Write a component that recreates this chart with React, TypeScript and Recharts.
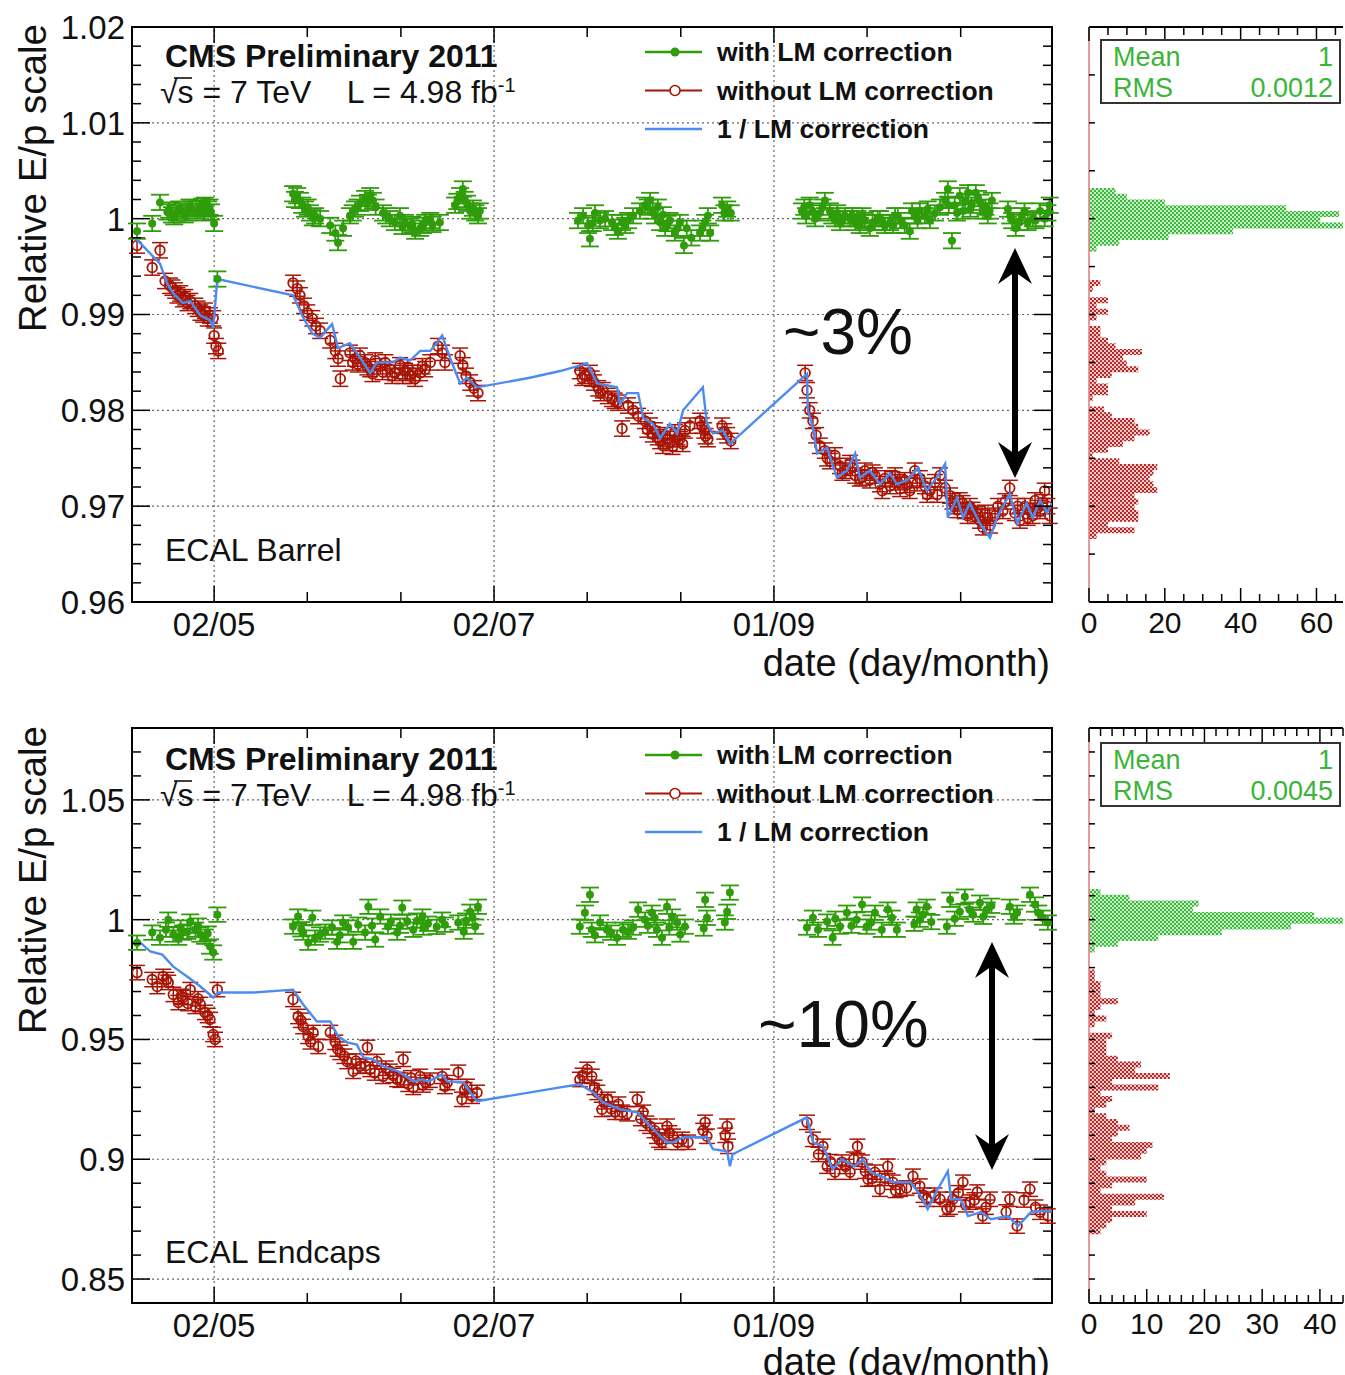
import React from "react";
import {
  ComposedChart,
  Scatter,
  Bar,
  XAxis,
  YAxis,
  ErrorBar,
  ReferenceLine,
  ReferenceArea,
} from "recharts";

type Pt = [number, number];

const FONT = '"Liberation Sans", Arial, Helvetica, sans-serif';
const GREEN = "#2f9c0a";
const RED = "#a81405";
const BLUE = "#4a8cf2";
const STAT_GREEN = "#3ab53a";

// time axis, x in day-of-year 2011
const DAY_DOMAIN: [number, number] = [104.1, 304.6];
const DATE_DAYS = [122, 183, 244];
const DATE_LABELS = ["02/05", "02/07", "01/09"];
const DATE_MINOR_DAYS = [142.3, 162.7, 203.3, 223.7, 264.3, 284.7];

// ---- ECAL Barrel ----
const BARREL_RANGE: [number, number] = [0.96, 1.02];
const BARREL_ERR = 0.0008;
const barrelWith: Pt[] = [
  [105.2, 0.9987], [108.5, 0.9995], [110.2, 1.0017], [111.8, 1.0007], [112.2, 1.0009], [112.8, 1.0004],
  [113.3, 1.0002], [113.9, 1.0006], [114.4, 1.001], [115.0, 1.0008], [115.6, 1.0004], [116.1, 1.0006],
  [116.6, 1.0012], [117.2, 1.001], [118.3, 1.0008], [118.8, 1.0011], [119.4, 1.0013], [119.8, 1.0006],
  [120.0, 1.0014], [120.7, 1.001], [121.0, 1.0012], [121.3, 1.0007], [122.0, 0.9995], [122.7, 0.9937],
  [139.2, 1.0026], [139.6, 1.002], [140.1, 1.0024], [140.7, 1.0019], [141.2, 1.0014], [141.8, 1.001],
  [142.4, 1.0012], [142.9, 1.0006], [143.5, 1.0001], [144.0, 1.0003], [145.1, 1.0], [147.3, 0.9993],
  [148.4, 0.9985], [149.0, 0.9975], [150.1, 0.999], [151.6, 1.0003], [152.2, 1.0006], [152.7, 1.001],
  [153.3, 1.0012], [153.8, 1.0016], [154.9, 1.0021], [155.5, 1.0017], [156.0, 1.0024], [156.6, 1.0019],
  [157.2, 1.0012], [158.8, 1.0006], [159.5, 1.0003], [160.3, 1.0], [161.4, 0.9996], [162.5, 1.0003],
  [163.0, 0.9992], [163.6, 0.9996], [164.7, 0.9992], [165.2, 0.9994], [165.8, 0.9987], [166.9, 0.999],
  [167.5, 0.9993], [168.0, 0.9996], [169.1, 0.9998], [169.6, 0.9994], [171.2, 0.9996], [174.5, 1.0014],
  [175.0, 1.0018], [175.6, 1.0024], [176.2, 1.0031], [176.6, 1.002], [177.1, 1.0016], [177.8, 1.0008],
  [178.4, 1.0011], [178.9, 1.0006], [179.5, 1.0003], [179.9, 1.0008],
  [201.3, 0.9998], [202.4, 1.0003], [203.5, 0.9993], [203.9, 0.9979], [204.5, 0.9995], [205.0, 1.0006],
  [206.1, 0.9998], [207.2, 1.0], [208.7, 0.9996], [209.3, 0.9991], [210.0, 0.9987], [210.9, 0.9996],
  [211.6, 0.9993], [212.2, 0.9998], [213.3, 1.0003], [214.8, 1.0008], [215.9, 1.0014], [216.5, 1.0012],
  [217.0, 1.0019], [217.6, 1.0008], [218.1, 1.0003], [218.7, 1.0012], [219.2, 0.9996], [219.8, 1.0004],
  [220.3, 0.999], [220.8, 0.9995], [221.3, 0.9998], [222.4, 0.9985], [223.0, 0.999], [223.5, 0.9996],
  [224.4, 0.9972], [225.0, 0.999], [226.0, 0.998], [227.9, 0.9985], [228.4, 0.999], [229.0, 0.9996],
  [229.6, 1.0003], [230.1, 0.9985], [232.7, 1.0014], [233.2, 1.0006], [233.8, 1.001], [234.6, 1.0006],
  [250.1, 1.0008], [250.6, 1.0012], [251.0, 1.0003], [251.8, 1.0014], [252.4, 1.0008], [253.0, 1.0],
  [254.0, 1.0006], [254.6, 1.0012], [255.1, 1.0019], [256.2, 1.0008], [256.7, 1.0003], [257.3, 1.0],
  [257.8, 1.0006], [258.4, 0.9996], [259.0, 1.0], [259.5, 1.0003], [260.6, 1.0], [261.1, 1.0003],
  [261.7, 0.9996], [262.2, 1.0], [262.7, 0.9993], [263.3, 1.0003], [263.8, 0.9998], [264.9, 0.999],
  [265.5, 0.9996], [266.0, 0.9996], [266.6, 1.0], [267.1, 1.0], [267.7, 0.9996], [268.2, 0.9993],
  [269.3, 0.9996], [270.0, 0.9993], [270.4, 1.0003], [271.0, 1.0003], [271.5, 0.9998], [272.5, 0.9993],
  [273.6, 0.9987], [274.1, 1.0008], [274.7, 1.0003], [275.3, 0.9998], [275.8, 1.0008], [276.9, 1.0003],
  [277.5, 1.001], [278.0, 0.9998], [279.1, 1.0006], [280.2, 1.0012], [281.3, 1.0019], [281.9, 1.0031],
  [282.1, 1.0014], [282.8, 0.9977], [283.4, 1.0014], [283.9, 1.0006], [284.5, 1.0024], [285.2, 1.0008],
  [285.7, 1.0018], [286.3, 1.0027], [286.8, 1.001], [287.1, 1.0014], [288.0, 1.0027], [288.5, 1.0021],
  [289.0, 1.0017], [289.5, 1.0008], [290.1, 1.0012], [290.6, 1.0003], [291.0, 1.0008], [291.5, 1.0019],
  [295.0, 1.001], [295.5, 1.0003], [295.9, 0.9998], [296.7, 0.999], [297.5, 0.9996], [298.0, 1.0003],
  [298.6, 1.0008], [299.3, 0.9996], [300.4, 1.0], [301.0, 0.9998], [302.0, 1.0008], [303.0, 1.0],
  [303.6, 1.0006], [304.1, 1.0014],
];
const barrelWithout: Pt[] = [
  [105.2, 0.9972], [108.5, 0.9949], [110.2, 0.9967], [111.3, 0.9935], [112.4, 0.993], [112.9, 0.9928],
  [113.5, 0.9925], [114.0, 0.992], [114.6, 0.9922], [115.2, 0.9916], [115.7, 0.9918], [116.2, 0.9912],
  [116.8, 0.9914], [117.9, 0.9909], [118.4, 0.9906], [119.0, 0.9902], [119.6, 0.99], [120.0, 0.9904],
  [120.6, 0.9896], [121.1, 0.9899], [121.8, 0.9896], [122.0, 0.9878], [122.4, 0.9867], [122.9, 0.9862],
  [139.2, 0.9933], [140.1, 0.9927], [140.7, 0.992], [141.6, 0.9909], [142.3, 0.9902], [143.4, 0.9896],
  [144.2, 0.9888], [145.1, 0.9883], [147.3, 0.9873], [148.4, 0.9862], [149.0, 0.9854], [149.5, 0.9833],
  [151.6, 0.986], [152.2, 0.985], [152.7, 0.9854], [153.3, 0.9848], [153.8, 0.9857], [154.9, 0.985],
  [155.4, 0.9845], [156.0, 0.9843], [156.5, 0.9838], [157.1, 0.9852], [158.2, 0.9846], [158.7, 0.984],
  [159.3, 0.985], [160.3, 0.9843], [160.8, 0.9836], [161.4, 0.9839], [162.5, 0.9847], [163.1, 0.9836],
  [163.6, 0.9841], [164.2, 0.9845], [164.7, 0.9836], [165.3, 0.9839], [165.8, 0.9833], [166.9, 0.9839],
  [167.4, 0.9846], [168.0, 0.9843], [169.1, 0.985], [170.8, 0.9867], [171.7, 0.986], [172.3, 0.985],
  [175.6, 0.9857], [176.2, 0.9847], [176.9, 0.9836], [177.8, 0.9829], [178.6, 0.9823], [179.5, 0.9818],
  [201.7, 0.9841], [202.2, 0.9834], [202.8, 0.9836], [203.9, 0.9839], [204.3, 0.9833], [204.8, 0.9829],
  [205.7, 0.9823], [206.2, 0.9818], [206.7, 0.9821], [207.8, 0.9815], [208.7, 0.9812], [209.3, 0.981],
  [210.0, 0.9808], [210.9, 0.9781], [212.2, 0.9805], [213.3, 0.98], [214.4, 0.9794], [215.9, 0.9789],
  [216.4, 0.978], [217.0, 0.9784], [217.6, 0.9775], [218.1, 0.9779], [218.7, 0.9772], [219.2, 0.9768],
  [219.8, 0.9763], [220.3, 0.9774], [220.8, 0.977], [221.3, 0.9766], [221.9, 0.9762], [222.4, 0.9777],
  [223.0, 0.9772], [223.5, 0.977], [224.1, 0.9765], [224.6, 0.9779], [225.7, 0.9784], [227.9, 0.9789],
  [228.3, 0.9784], [228.8, 0.9779], [229.1, 0.9773], [229.6, 0.977], [232.7, 0.9784], [233.2, 0.9778],
  [233.8, 0.9774], [234.6, 0.9768],
  [250.8, 0.9839], [251.2, 0.9821], [251.8, 0.98], [252.5, 0.9789], [253.2, 0.9774], [254.0, 0.9763],
  [255.1, 0.9758], [255.6, 0.975], [256.2, 0.9747], [257.3, 0.9753], [258.4, 0.9742], [258.9, 0.9735],
  [259.5, 0.9737], [260.6, 0.9745], [261.1, 0.974], [261.7, 0.9732], [262.7, 0.9729], [263.2, 0.973],
  [263.8, 0.9737], [264.9, 0.9727], [265.5, 0.9735], [266.0, 0.9732], [267.1, 0.9723], [267.6, 0.9716],
  [268.2, 0.9729], [269.3, 0.9721], [269.8, 0.9728], [270.4, 0.9732], [271.0, 0.9725], [271.5, 0.9718],
  [272.5, 0.9727], [273.0, 0.9722], [273.6, 0.9716], [274.7, 0.9737], [275.2, 0.9724], [275.8, 0.9729],
  [276.9, 0.9721], [277.4, 0.9712], [278.0, 0.9716], [279.1, 0.9725], [279.6, 0.9712], [280.2, 0.9732],
  [281.3, 0.9719], [282.4, 0.9711], [282.9, 0.9705], [283.4, 0.97], [284.0, 0.9696], [284.5, 0.9706],
  [285.1, 0.9703], [285.6, 0.9695], [286.2, 0.969], [286.7, 0.97], [287.3, 0.9696], [287.8, 0.969],
  [288.4, 0.9692], [288.9, 0.9685], [289.5, 0.9678], [290.0, 0.9693], [290.6, 0.9688], [291.1, 0.968],
  [292.2, 0.969], [292.8, 0.97], [293.9, 0.9695], [294.4, 0.9705], [295.4, 0.9719], [296.5, 0.9693],
  [297.1, 0.97], [297.6, 0.9685], [298.7, 0.97], [299.3, 0.9688], [299.8, 0.9695], [300.4, 0.969],
  [300.9, 0.9706], [301.5, 0.9698], [302.0, 0.9695], [302.6, 0.9704], [303.0, 0.9716], [303.6, 0.97],
  [304.1, 0.969],
];
const barrelLM: Pt[] = [
  [104.8, 0.998], [110.2, 0.9953], [111.8, 0.9932], [113.1, 0.9922], [115.2, 0.9912], [116.8, 0.9914],
  [119.0, 0.9899], [121.1, 0.9894], [121.8, 0.9886], [122.7, 0.9937], [139.2, 0.992], [141.4, 0.9897],
  [143.4, 0.988], [145.1, 0.9876], [147.7, 0.989], [149.0, 0.9865], [151.6, 0.987], [153.8, 0.9855],
  [156.0, 0.9839], [157.5, 0.985], [161.0, 0.985], [162.5, 0.9855], [164.7, 0.9852], [166.9, 0.9862],
  [169.1, 0.9862], [171.7, 0.9878], [173.4, 0.9855], [175.6, 0.9828], [177.1, 0.9834], [179.3, 0.9824],
  [190.8, 0.9834], [197.4, 0.9841], [203.3, 0.9849], [205.5, 0.9828], [209.8, 0.9824], [210.5, 0.9807],
  [212.0, 0.9818], [214.4, 0.9818], [215.5, 0.9792], [217.6, 0.9786], [219.2, 0.9771], [221.3, 0.9786],
  [222.9, 0.9776], [224.2, 0.98], [228.5, 0.9824], [229.4, 0.9786], [230.7, 0.9776], [232.9, 0.9779],
  [234.4, 0.9765], [251.2, 0.9838], [251.4, 0.98], [252.5, 0.9782], [253.4, 0.9755], [255.6, 0.9761],
  [257.7, 0.973], [259.9, 0.9737], [261.7, 0.9755], [262.7, 0.973], [264.9, 0.9737], [267.1, 0.9723],
  [269.3, 0.9734], [270.8, 0.9723], [273.0, 0.9727], [275.4, 0.974], [277.3, 0.9716], [279.5, 0.973],
  [281.3, 0.9744], [281.9, 0.9688], [283.9, 0.9709], [285.2, 0.9688], [286.7, 0.9703], [288.9, 0.9682],
  [291.1, 0.9667], [292.6, 0.9688], [295.4, 0.9713], [297.0, 0.9682], [299.1, 0.9703], [300.4, 0.9688],
  [302.0, 0.9706], [303.5, 0.9693], [304.6, 0.9703],
];
// histogram: bins of 0.0006 counted down from 1.02
const BARREL_BIN_W = 0.0006;
const BARREL_GREEN_FIRST_BIN = 28;
const barrelGreenCounts = [7, 10, 20, 52, 66, 61, 67, 38, 21, 8, 2];
const BARREL_RED_FIRST_BIN = 44;
const barrelRedCounts = [
  3, 1, 0, 5, 2, 5, 2, 0, 3, 3, 5, 7, 14, 9, 10, 13, 6, 2, 5, 5, 1, 0, 4, 6, 12, 13, 16, 12, 9, 5, 1,
  8, 18, 17, 16, 17, 18, 12, 13, 12, 13, 13, 5, 12, 2,
];

// ---- ECAL Endcaps ----
const ENDCAP_RANGE: [number, number] = [0.84, 1.08];
const ENDCAP_ERR = 0.003;
const endcapWith: Pt[] = [
  [105.2, 0.9904], [108.5, 0.9946], [110.2, 0.9925], [111.5, 0.9958], [112.0, 1.0], [113.1, 0.9938],
  [114.2, 0.9925], [114.7, 0.9967], [115.2, 0.9946], [116.2, 0.995], [116.8, 0.9992], [117.9, 0.9958],
  [118.5, 0.9975], [119.0, 0.9938], [120.0, 0.9929], [120.6, 0.9942], [121.1, 0.9888], [121.8, 0.9863],
  [122.7, 1.0021],
  [139.2, 0.9971], [140.3, 1.0013], [141.0, 0.996], [141.4, 0.9946], [142.5, 0.9904], [143.4, 1.0008],
  [144.0, 0.9925], [145.1, 0.9938], [146.2, 0.995], [147.7, 0.9967], [148.8, 0.9908], [149.4, 0.9935],
  [150.1, 0.9988], [151.2, 0.9967], [152.3, 0.9908], [153.4, 0.9979], [154.9, 0.9946], [155.6, 1.0054],
  [156.4, 0.9975], [157.1, 0.9917], [158.2, 1.0013], [159.9, 0.9971], [160.5, 0.9992], [161.9, 0.9946],
  [162.5, 0.9975], [163.0, 1.005], [164.1, 0.9992], [165.4, 0.9958], [166.2, 0.9996], [167.4, 1.0013],
  [167.6, 0.9967], [168.6, 0.9983], [170.5, 0.997], [171.7, 1.0], [172.3, 0.9979], [175.2, 0.9988],
  [176.4, 0.995], [176.9, 0.9996], [177.8, 1.0033], [178.3, 1.0008], [178.9, 0.9971], [179.5, 1.0054],
  [201.7, 0.9971], [202.8, 1.0029], [203.9, 1.0104], [204.3, 0.9958], [205.0, 0.9935], [206.1, 0.9988],
  [207.6, 0.9958], [208.5, 0.9946], [209.8, 0.9925], [211.1, 0.9958], [212.2, 0.995], [213.3, 0.9967],
  [214.4, 1.0042], [215.9, 1.0], [216.5, 0.9975], [217.4, 1.0029], [218.0, 1.0008], [218.5, 0.9958],
  [219.6, 0.9925], [220.7, 1.0054], [221.2, 0.9967], [221.8, 1.0013], [222.9, 0.9988], [223.6, 0.9938],
  [224.6, 0.9971], [228.7, 0.9963], [229.0, 1.0083], [229.4, 1.0008], [233.3, 0.9988], [233.8, 1.0033],
  [234.4, 1.0113],
  [251.2, 0.9967], [252.5, 1.0008], [253.6, 0.9958], [255.6, 0.9992], [256.8, 0.9925], [257.4, 1.0004],
  [258.4, 0.9971], [259.9, 1.0029], [260.9, 0.9975], [262.0, 1.0], [263.2, 1.0063], [264.2, 0.9971],
  [265.2, 0.9988], [266.0, 1.0029], [267.5, 0.9958], [268.8, 1.0042], [269.7, 1.0008], [270.8, 0.9958],
  [274.6, 0.9983], [275.1, 1.0042], [275.8, 1.0], [276.5, 1.0021], [277.3, 1.0054], [278.3, 0.999],
  [281.7, 0.9971], [282.4, 1.0083], [283.4, 1.0004], [284.5, 1.0033], [285.6, 1.0096], [286.6, 1.0042],
  [287.4, 1.0021], [288.9, 1.0071], [289.6, 1.0012], [290.4, 1.0042], [291.4, 1.0058], [295.4, 1.0054],
  [296.3, 1.0013], [297.0, 1.0029], [299.8, 1.0104], [300.9, 1.0063], [301.6, 1.0029], [302.6, 1.0008],
  [303.7, 0.9988],
];
const endcapWithout: Pt[] = [
  [105.2, 0.9779], [108.5, 0.975], [109.6, 0.9721], [110.9, 0.9763], [111.6, 0.975], [112.0, 0.9738],
  [113.1, 0.9688], [114.2, 0.9654], [114.8, 0.968], [115.2, 0.9675], [116.3, 0.965], [116.8, 0.9708],
  [117.9, 0.9638], [118.5, 0.967], [119.0, 0.9646], [120.0, 0.9613], [120.6, 0.96], [121.1, 0.9583],
  [121.8, 0.9521], [122.2, 0.95], [122.7, 0.9708],
  [139.2, 0.9667], [140.3, 0.9596], [140.9, 0.958], [141.4, 0.9554], [142.5, 0.9513], [143.0, 0.949],
  [143.6, 0.9529], [144.7, 0.9471], [147.3, 0.9529], [148.4, 0.9488], [148.9, 0.946], [149.5, 0.9446],
  [150.4, 0.943], [151.0, 0.9408], [152.3, 0.9367], [152.9, 0.941], [153.8, 0.9388], [155.0, 0.939],
  [155.4, 0.9467], [156.0, 0.9375], [157.0, 0.936], [157.5, 0.9408], [158.8, 0.9346], [159.4, 0.938],
  [160.3, 0.9367], [161.0, 0.935], [161.9, 0.9333], [162.6, 0.933], [163.2, 0.9417], [164.3, 0.9313],
  [164.9, 0.934], [165.4, 0.93], [166.9, 0.9346], [167.5, 0.931], [168.0, 0.9321], [169.0, 0.933],
  [171.7, 0.9346], [172.3, 0.9304], [172.8, 0.932], [175.2, 0.9363], [176.0, 0.925], [176.6, 0.929],
  [177.1, 0.9304], [178.2, 0.9263], [179.3, 0.9279],
  [201.7, 0.9333], [202.3, 0.935], [203.3, 0.9375], [204.3, 0.9346], [204.9, 0.93], [205.5, 0.9279],
  [206.5, 0.9208], [207.0, 0.924], [207.8, 0.925], [208.6, 0.921], [209.4, 0.9196], [210.1, 0.923],
  [210.9, 0.9196], [212.0, 0.919], [214.2, 0.925], [215.0, 0.917], [215.5, 0.9196], [216.2, 0.915],
  [217.0, 0.9138], [218.0, 0.912], [218.5, 0.9096], [219.0, 0.908], [219.6, 0.9071], [220.7, 0.9138],
  [221.2, 0.911], [222.0, 0.9096], [223.0, 0.907], [224.0, 0.9083], [225.3, 0.9071], [228.6, 0.912],
  [229.0, 0.9154], [229.4, 0.9096], [233.4, 0.91], [233.8, 0.9138], [234.0, 0.9054],
  [251.2, 0.9154], [252.5, 0.9083], [253.7, 0.902], [254.7, 0.9054], [255.6, 0.8971], [256.3, 0.899],
  [257.3, 0.8946], [258.8, 0.8988], [259.6, 0.897], [260.6, 0.8946], [261.4, 0.9], [262.2, 0.9054],
  [263.2, 0.8988], [263.9, 0.895], [264.5, 0.8917], [265.4, 0.892], [266.0, 0.8946], [267.1, 0.8875],
  [268.2, 0.892], [268.8, 0.8971], [269.9, 0.8904], [270.5, 0.887], [271.5, 0.8875], [272.9, 0.888],
  [274.3, 0.8929], [275.8, 0.8888], [276.6, 0.885], [277.3, 0.8833], [279.0, 0.885], [280.2, 0.8833],
  [281.7, 0.8792], [282.4, 0.88], [283.0, 0.8833], [284.2, 0.886], [285.2, 0.8904], [285.8, 0.881],
  [286.7, 0.8821], [287.7, 0.883], [288.3, 0.8863], [289.5, 0.8763], [290.2, 0.88], [291.1, 0.8833],
  [294.6, 0.878], [295.4, 0.8833], [297.0, 0.8721], [298.5, 0.883], [299.8, 0.8875], [301.0, 0.88],
  [302.0, 0.8779], [303.7, 0.8763],
];
const endcapLM: Pt[] = [
  [105.2, 0.9917], [108.1, 0.9867], [110.7, 0.9854], [113.1, 0.9804], [116.1, 0.9763], [119.0, 0.9721],
  [121.8, 0.9675], [122.9, 0.9696], [130.5, 0.9696], [139.2, 0.9708], [141.4, 0.9646], [144.4, 0.9575],
  [147.3, 0.9575], [149.0, 0.9513], [151.0, 0.9488], [153.1, 0.9479], [154.5, 0.9425], [156.6, 0.9417],
  [158.8, 0.9388], [160.8, 0.9375], [162.1, 0.9367], [164.1, 0.9342], [165.4, 0.9325], [167.4, 0.9333],
  [168.7, 0.9325], [171.7, 0.9354], [172.8, 0.9325], [176.4, 0.9321], [177.8, 0.9279], [179.3, 0.9242],
  [197.4, 0.93], [201.7, 0.9313], [204.6, 0.9279], [206.7, 0.9238], [210.5, 0.9208], [214.2, 0.9196],
  [216.3, 0.9154], [219.2, 0.9096], [220.7, 0.9071], [222.0, 0.9071], [224.2, 0.9092], [229.4, 0.9092],
  [230.7, 0.9042], [233.8, 0.9033], [234.4, 0.8971], [235.0, 0.9021], [251.2, 0.9175], [252.5, 0.9071],
  [254.7, 0.9054], [256.8, 0.8958], [258.8, 0.9], [261.5, 0.8971], [263.4, 0.9], [265.1, 0.8946],
  [267.3, 0.8929], [270.1, 0.8904], [273.8, 0.8904], [276.0, 0.8846], [277.5, 0.8792], [279.7, 0.8875],
  [281.9, 0.895], [282.6, 0.8833], [284.7, 0.8833], [286.3, 0.8763], [289.1, 0.8779], [291.3, 0.875],
  [295.0, 0.8763], [297.2, 0.8721], [300.0, 0.8779], [302.2, 0.8783], [304.6, 0.8783],
];
// histogram: bins of 0.0024 counted down from 1.08
const ENDCAP_BIN_W = 0.0024;
const ENDCAP_GREEN_FIRST_BIN = 28;
const endcapGreenCounts = [2, 7, 19, 18, 39, 44, 35, 23, 12, 5, 1];
const ENDCAP_RED_FIRST_BIN = 42;
const endcapRedCounts = [
  1, 1, 2, 2, 2, 5, 2, 1, 3, 1, 0, 4, 3, 3, 3, 5, 9, 8, 14, 4, 12, 2, 4, 3, 1, 3, 5, 7, 5, 4, 11, 10, 9,
  3, 2, 3, 10, 4, 2, 13, 8, 4, 10, 4, 3, 2,
];

// layout of the time panels (plot box = 920 x 575)
const PLOT_W = 920;
const PLOT_H = 575;

const steps = (lo: number, hi: number, step: number) => {
  const out: number[] = [];
  for (let v = lo; v <= hi + step / 2; v += step) out.push(Math.round(v * 1e6) / 1e6);
  return out;
};
const isMultiple = (v: number, step: number) => Math.abs(v / step - Math.round(v / step)) < 1e-6;
const fmt = (v: number) => String(Number(v.toFixed(3)));

const DATE_TICKS = [...DATE_DAYS, ...DATE_MINOR_DAYS].sort((a, b) => a - b);

const toRows = (pts: Pt[], err: number) => pts.map(([d, v]) => ({ d, v, e: err }));

const histRows = (
  hi: number,
  w: number,
  gFirst: number,
  gCounts: number[],
  rFirst: number,
  rCounts: number[]
) => [
  ...gCounts.map((n, i) => ({ y: hi - (gFirst + i + 0.5) * w, g: n, r: 0 })),
  ...rCounts.map((n, i) => ({ y: hi - (rFirst + i + 0.5) * w, g: 0, r: n })),
];

// ticks point inwards on both sides, like a ROOT frame
const dateTick = (p: any) => {
  const { x, y, payload } = p;
  const i = DATE_DAYS.indexOf(payload.value);
  const len = i >= 0 ? 16 : 10;
  return (
    <g>
      <line x1={x} y1={y} x2={x} y2={y - len} stroke="#000" strokeWidth={1.5} />
      <line x1={x} y1={y - PLOT_H} x2={x} y2={y - PLOT_H + len} stroke="#000" strokeWidth={1.5} />
      {i >= 0 && (
        <text x={x} y={y + 34} textAnchor="middle" fontSize={33} fontFamily={FONT} fill="#111">
          {DATE_LABELS[i]}
        </text>
      )}
    </g>
  );
};

const valueTick = (majorStep: number) => (p: any) => {
  const { x, y, payload } = p;
  const v = payload.value;
  const major = isMultiple(v, majorStep);
  const len = major ? 18 : 9;
  return (
    <g>
      <line x1={x} y1={y} x2={x + len} y2={y} stroke="#000" strokeWidth={1.5} />
      <line x1={x + PLOT_W} y1={y} x2={x + PLOT_W - len} y2={y} stroke="#000" strokeWidth={1.5} />
      {major && (
        <text x={x - 7} y={y} dy="0.36em" textAnchor="end" fontSize={33} fontFamily={FONT} fill="#111">
          {fmt(v)}
        </text>
      )}
    </g>
  );
};

const countTick = (majorStep: number) => (p: any) => {
  const { x, y, payload } = p;
  const v = payload.value;
  const major = isMultiple(v, majorStep);
  const len = major ? 14 : 8;
  return (
    <g>
      <line x1={x} y1={y} x2={x} y2={y - len} stroke="#000" strokeWidth={1.5} />
      <line x1={x} y1={y - PLOT_H} x2={x} y2={y - PLOT_H + len} stroke="#000" strokeWidth={1.5} />
      {major && (
        <text x={x} y={y + 31} textAnchor="middle" fontSize={30} fontFamily={FONT} fill="#111">
          {v}
        </text>
      )}
    </g>
  );
};

const sideTick = (p: any) => (
  <line x1={p.x} y1={p.y} x2={p.x + 6} y2={p.y} stroke="#000" strokeWidth={1.5} />
);

const greenDot = (p: any) => <circle cx={p.cx} cy={p.cy} r={4} fill={GREEN} />;
const redRing = (p: any) => (
  <circle cx={p.cx} cy={p.cy} r={4.8} fill="none" stroke={RED} strokeWidth={1.8} />
);
const noMark = () => <g />;

function TimePanel(props: {
  range: [number, number];
  majorStep: number;
  minorStep: number;
  withPts: Pt[];
  withoutPts: Pt[];
  lmPts: Pt[];
  err: number;
}) {
  const { range, majorStep, minorStep, withPts, withoutPts, lmPts, err } = props;
  const ticks = steps(range[0], range[1], minorStep);
  const grid = ticks.filter((t) => isMultiple(t, majorStep) && t > range[0] && t < range[1]);
  return (
    <ComposedChart width={1060} height={690} margin={{ top: 27, right: 8, bottom: 0, left: 0 }}>
      <XAxis
        type="number"
        dataKey="d"
        domain={DAY_DOMAIN}
        allowDataOverflow
        ticks={DATE_TICKS}
        interval={0}
        height={88}
        tickSize={0}
        tickMargin={0}
        tickLine={false}
        axisLine={false}
        tick={dateTick}
      />
      <YAxis
        type="number"
        dataKey="v"
        domain={range}
        allowDataOverflow
        ticks={ticks}
        interval={0}
        width={132}
        tickSize={0}
        tickMargin={0}
        tickLine={false}
        axisLine={false}
        tick={valueTick(majorStep)}
      />
      {grid.map((g) => (
        <ReferenceLine key={"h" + g} y={g} stroke="#666" strokeDasharray="2 3" strokeWidth={1.2} />
      ))}
      {DATE_DAYS.map((d) => (
        <ReferenceLine key={"v" + d} x={d} stroke="#666" strokeDasharray="2 3" strokeWidth={1.2} />
      ))}
      <Scatter data={toRows(withoutPts, err)} dataKey="v" shape={redRing} isAnimationActive={false}>
        <ErrorBar dataKey="e" direction="y" width={8} stroke={RED} strokeWidth={1.5} />
      </Scatter>
      <Scatter
        data={toRows(lmPts, 0)}
        dataKey="v"
        line={{ stroke: BLUE, strokeWidth: 2.4 }}
        lineType="joint"
        shape={noMark}
        isAnimationActive={false}
      />
      <Scatter data={toRows(withPts, err)} dataKey="v" shape={greenDot} isAnimationActive={false}>
        <ErrorBar dataKey="e" direction="y" width={9} stroke={GREEN} strokeWidth={1.8} />
      </Scatter>
      <ReferenceArea
        x1={DAY_DOMAIN[0]}
        x2={DAY_DOMAIN[1]}
        y1={range[0]}
        y2={range[1]}
        fill="none"
        stroke="#000"
        strokeWidth={2}
        ifOverflow="visible"
      />
    </ComposedChart>
  );
}

function HistPanel(props: {
  range: [number, number];
  sideStep: number;
  countMax: number;
  countStep: number;
  countMajor: number;
  rows: { y: number; g: number; r: number }[];
}) {
  const { range, sideStep, countMax, countStep, countMajor, rows } = props;
  return (
    <ComposedChart
      layout="vertical"
      width={325}
      height={690}
      data={rows}
      margin={{ top: 27, right: 2, bottom: 0, left: 0 }}
      barCategoryGap={0}
      barGap={0}
    >
      <XAxis
        type="number"
        domain={[0, countMax]}
        allowDataOverflow
        ticks={steps(0, countMax, countStep)}
        interval={0}
        height={88}
        tickSize={0}
        tickMargin={0}
        tickLine={false}
        axisLine={{ stroke: "#000", strokeWidth: 2 }}
        tick={countTick(countMajor)}
      />
      <YAxis
        type="number"
        dataKey="y"
        domain={range}
        allowDataOverflow
        reversed
        ticks={steps(range[0], range[1], sideStep)}
        interval={0}
        width={69}
        tickSize={0}
        tickMargin={0}
        tickLine={false}
        axisLine={{ stroke: "#e07a7a", strokeWidth: 1.5 }}
        tick={sideTick}
      />
      <Bar dataKey="g" stackId="h" fill="url(#dotsGreen)" isAnimationActive={false} />
      <Bar dataKey="r" stackId="h" fill="url(#dotsRed)" isAnimationActive={false} />
      <ReferenceLine y={range[1]} stroke="#000" strokeWidth={2} ifOverflow="visible" />
    </ComposedChart>
  );
}

function Arrow({ x, top, bottom }: { x: number; top: number; bottom: number }) {
  const head = 36;
  const half = 17;
  const notch = 12;
  return (
    <g fill="#000">
      <line x1={x} y1={top + head - notch} x2={x} y2={bottom - head + notch} stroke="#000" strokeWidth={6} />
      <polygon points={`${x},${top} ${x - half},${top + head} ${x},${top + head - notch} ${x + half},${top + head}`} />
      <polygon
        points={`${x},${bottom} ${x - half},${bottom - head} ${x},${bottom - head + notch} ${x + half},${bottom - head}`}
      />
    </g>
  );
}

function Legend({ top }: { top: number }) {
  const rows = ["with LM correction", "without LM correction", "1 / LM correction"];
  return (
    <g fontFamily={FONT} fontWeight="bold" fontSize={26.5} fill="#111">
      {rows.map((t, i) => {
        const y = top + i * 38.5;
        return (
          <g key={t}>
            {i === 0 && (
              <>
                <line x1={645} y1={y} x2={702} y2={y} stroke={GREEN} strokeWidth={2.5} />
                <circle cx={675} cy={y} r={4.5} fill={GREEN} />
              </>
            )}
            {i === 1 && (
              <>
                <line x1={645} y1={y} x2={702} y2={y} stroke={RED} strokeWidth={2} />
                <circle cx={675} cy={y} r={5} fill="#fff" stroke={RED} strokeWidth={1.6} />
              </>
            )}
            {i === 2 && <line x1={645} y1={y} x2={702} y2={y} stroke={BLUE} strokeWidth={2.5} />}
            <text x={717} y={y + 9}>
              {t}
            </text>
          </g>
        );
      })}
    </g>
  );
}

function StatBox({ top, rms }: { top: number; rms: string }) {
  return (
    <g fontFamily={FONT} fontSize={27} fill={STAT_GREEN}>
      <rect x={1101} y={top} width={239} height={63} fill="#fff" stroke="#333" strokeWidth={2} />
      <text x={1113} y={top + 26}>Mean</text>
      <text x={1333} y={top + 26} textAnchor="end">1</text>
      <text x={1113} y={top + 57}>RMS</text>
      <text x={1333} y={top + 57} textAnchor="end">{rms}</text>
    </g>
  );
}

function Header({ top }: { top: number }) {
  return (
    <g fontFamily={FONT} fill="#111">
      <text x={165} y={top + 40} fontSize={32} fontWeight="bold">
        CMS Preliminary 2011
      </text>
      <line x1={174} y1={top + 51} x2={192} y2={top + 51} stroke="#111" strokeWidth={1.6} />
      <text x={160} y={top + 76} fontSize={32}>
        {"√s = 7 TeV\u00a0\u00a0\u00a0\u00a0L = 4.98 fb"}
        <tspan dy={-11} fontSize={20}>
          -1
        </tspan>
      </text>
    </g>
  );
}

function Annotations() {
  return (
    <svg
      width={1345}
      height={1375}
      style={{ position: "absolute", left: 0, top: 0, pointerEvents: "none" }}
    >
      <g fontFamily={FONT} fill="#111">
        <text transform="translate(46, 24) rotate(-90)" textAnchor="end" fontSize={38.5}>
          Relative E/p scale
        </text>
        <text transform="translate(46, 726) rotate(-90)" textAnchor="end" fontSize={38.5}>
          Relative E/p scale
        </text>
        <text x={1050} y={676} textAnchor="end" fontSize={38}>
          date (day/month)
        </text>
        <text x={1050} y={1375} textAnchor="end" fontSize={38}>
          date (day/month)
        </text>
        <text x={165} y={561} fontSize={32}>
          ECAL Barrel
        </text>
        <text x={165} y={1263} fontSize={32}>
          ECAL Endcaps
        </text>
        <text x={783} y={354} fontSize={64}>
          ~3%
        </text>
        <text x={758} y={1047} fontSize={66}>
          ~10%
        </text>
      </g>
      <Header top={27} />
      <Header top={730} />
      <Legend top={52} />
      <Legend top={755} />
      <Arrow x={1015} top={248} bottom={478} />
      <Arrow x={992} top={942} bottom={1170} />
      <StatBox top={40} rms="0.0012" />
      <StatBox top={743} rms="0.0045" />
    </svg>
  );
}

function PatternDefs() {
  return (
    <svg width={0} height={0} style={{ position: "absolute" }}>
      <defs>
        <pattern id="dotsGreen" width={4} height={4} patternUnits="userSpaceOnUse">
          <rect width={4} height={4} fill="#c6eec6" />
          <rect width={2} height={2} fill="#3cb83c" />
          <rect x={2} y={2} width={2} height={2} fill="#3cb83c" />
        </pattern>
        <pattern id="dotsRed" width={4} height={4} patternUnits="userSpaceOnUse">
          <rect width={4} height={4} fill="#efc8c8" />
          <rect width={2} height={2} fill="#b42828" />
          <rect x={2} y={2} width={2} height={2} fill="#b42828" />
        </pattern>
      </defs>
    </svg>
  );
}

export default function App() {
  const barrelHist = histRows(
    BARREL_RANGE[1],
    BARREL_BIN_W,
    BARREL_GREEN_FIRST_BIN,
    barrelGreenCounts,
    BARREL_RED_FIRST_BIN,
    barrelRedCounts
  );
  const endcapHist = histRows(
    ENDCAP_RANGE[1],
    ENDCAP_BIN_W,
    ENDCAP_GREEN_FIRST_BIN,
    endcapGreenCounts,
    ENDCAP_RED_FIRST_BIN,
    endcapRedCounts
  );
  return (
    <div
      style={{
        position: "absolute",
        left: 0,
        top: 0,
        width: 1345,
        height: 1375,
        background: "#fff",
        overflow: "hidden",
      }}
    >
      <PatternDefs />
      <div style={{ position: "absolute", left: 0, top: 0 }}>
        <TimePanel
          range={BARREL_RANGE}
          majorStep={0.01}
          minorStep={0.002}
          withPts={barrelWith}
          withoutPts={barrelWithout}
          lmPts={barrelLM}
          err={BARREL_ERR}
        />
      </div>
      <div style={{ position: "absolute", left: 1020, top: 0 }}>
        <HistPanel range={BARREL_RANGE} sideStep={0.005} countMax={67} countStep={5} countMajor={20} rows={barrelHist} />
      </div>
      <div style={{ position: "absolute", left: 0, top: 701 }}>
        <TimePanel
          range={ENDCAP_RANGE}
          majorStep={0.05}
          minorStep={0.01}
          withPts={endcapWith}
          withoutPts={endcapWithout}
          lmPts={endcapLM}
          err={ENDCAP_ERR}
        />
      </div>
      <div style={{ position: "absolute", left: 1020, top: 701 }}>
        <HistPanel range={ENDCAP_RANGE} sideStep={0.01} countMax={44} countStep={2} countMajor={10} rows={endcapHist} />
      </div>
      <Annotations />
    </div>
  );
}
